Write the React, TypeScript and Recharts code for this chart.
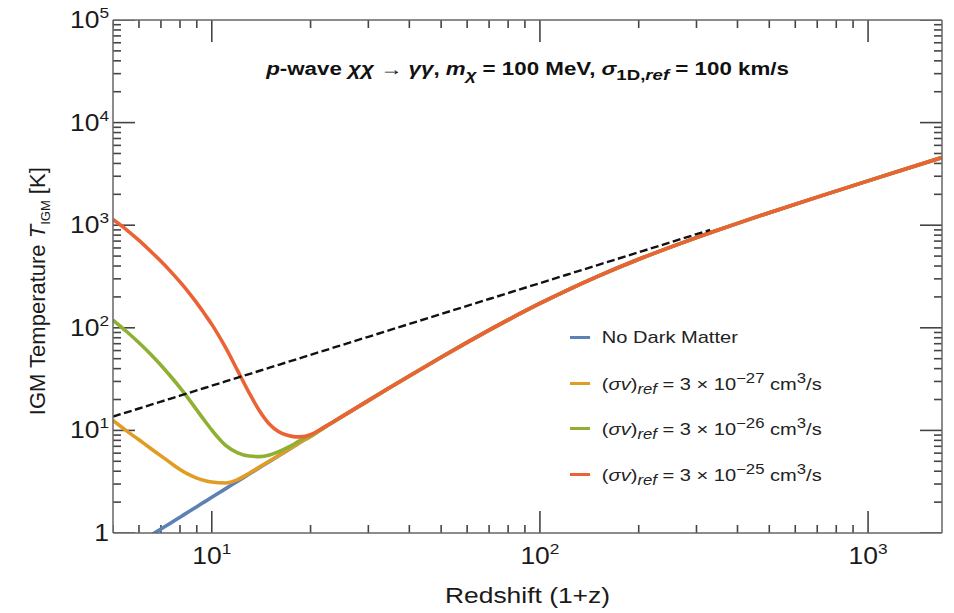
import React from 'react';
import { LineChart, Line, XAxis, YAxis } from 'recharts';

// redshift grid (1+z)
const redshift = [5, 5.5, 6, 6.5, 7, 7.5, 8, 8.5, 9, 9.5, 10, 11, 12, 13, 14, 15, 16, 17, 18, 19, 20, 22, 24, 27, 30, 35, 40, 50, 60, 70, 80, 100, 120, 150, 200, 250, 300, 330, 400, 500, 700, 1000, 1300, 1680];

// gas temperature, no dark matter
const noDarkMatter = [0.558, 0.675, 0.803, 0.942, 1.093, 1.254, 1.427, 1.61, 1.805, 2.01, 2.226, 2.692, 3.2, 3.754, 4.35, 4.99, 5.67, 6.39, 7.16, 7.97, 8.73, 10.64, 12.62, 15.9, 19.52, 26.3, 33.96, 51.67, 72.15, 94.93, 119.5, 172.8, 229.3, 317.1, 465.3, 612.2, 757.3, 843.4, 1042.6, 1323.7, 1879, 2705, 3527, 4566];

// CMB temperature (dashed)
const cmbTemp = [13.63, 14.99, 16.35, 17.71, 19.08, 20.44, 21.8, 23.16, 24.53, 25.89, 27.25, 29.98, 32.7, 35.43, 38.15, 40.88, 43.6, 46.33, 49.05, 51.78, 54.5, 59.95, 65.4, 73.58, 81.75, 95.38, 109, 136.3, 163.5, 190.8, 218, 272.5, 327, 408.8, 545, 681.3, 817.5, 899.3, null, null, null, null, null, null];

const sigmaV27 = [12.5, 9.9, 8.1, 6.7, 5.65, 4.81, 4.16, 3.72, 3.43, 3.25, 3.14, 3.07, 3.32, 3.82, 4.41, 5.03, 5.69, 6.4, 7.17, 7.97, 8.73, 10.64, 12.62, 15.9, 19.52, 26.3, 33.96, 51.67, 72.15, 94.93, 119.5, 172.8, 229.3, 317.1, 465.3, 612.2, 757.3, 843.4, 1042.6, 1323.7, 1879, 2705, 3527, 4566];

const sigmaV26 = [119, 92, 71.4, 55.5, 43.2, 33.5, 26.1, 20.3, 15.8, 12.5, 10.1, 7.2, 6.05, 5.63, 5.55, 5.75, 6.2, 6.8, 7.5, 8.3, 8.9, 10.7, 12.64, 15.9, 19.52, 26.3, 33.96, 51.67, 72.15, 94.93, 119.5, 172.8, 229.3, 317.1, 465.3, 612.2, 757.3, 843.4, 1042.6, 1323.7, 1879, 2705, 3527, 4566];

const sigmaV25 = [1135, 902, 711, 561, 445, 353, 280, 222, 175, 137, 108, 64.7, 38, 23.2, 15.4, 11.5, 9.7, 8.95, 8.65, 8.7, 9.1, 10.75, 12.68, 15.95, 19.55, 26.3, 33.96, 51.67, 72.15, 94.93, 119.5, 172.8, 229.3, 317.1, 465.3, 612.2, 757.3, 843.4, 1042.6, 1323.7, 1879, 2705, 3527, 4566];

const xTicks = [5, 6, 7, 8, 9, 10, 20, 30, 40, 50, 60, 70, 80, 90, 100, 200, 300, 400, 500, 600, 700, 800, 900, 1000];
const yTicks = [1, 2, 3, 4, 5, 6, 7, 8, 9, 10, 20, 30, 40, 50, 60, 70, 80, 90, 100, 200, 300, 400, 500, 600, 700, 800, 900, 1000, 2000, 3000, 4000, 5000, 6000, 7000, 8000, 9000, 10000, 20000, 30000, 40000, 50000, 60000, 70000, 80000, 90000, 100000];

const X_MIN = 5;
const X_MAX = 1680;
const Y_MIN = 1;
const Y_MAX = 100000;

const data = redshift.map((z, i) => ({
  z,
  base: noDarkMatter[i],
  cmb: cmbTemp[i],
  s27: sigmaV27[i],
  s26: sigmaV26[i],
  s25: sigmaV25[i],
}));

const FRAME = '#666';
const TICK = '#444';
const FONT = '"Liberation Sans", Arial, sans-serif';
const MAJOR = 22;
const MINOR = 8;

// plot box is 829 x 513 px; tick lengths (px) turned into factors on the log axes
const PX_PER_DEC_X = 829 / Math.log10(X_MAX / X_MIN);
const PX_PER_DEC_Y = 513 / Math.log10(Y_MAX / Y_MIN);
const fx = (px: number) => Math.pow(10, px / PX_PER_DEC_X);
const fy = (px: number) => Math.pow(10, px / PX_PER_DEC_Y);

const isMajor = (v: number) => Math.abs(Math.log10(v) - Math.round(Math.log10(v))) < 1e-6;
const tickLen = (v: number) => (isMajor(v) ? MAJOR : MINOR);

// inward frame ticks, drawn as short two-point series on the chart's own scales
const tickSegments = [
  ...xTicks.map((v) => [{ z: v, t: Y_MIN }, { z: v, t: Y_MIN * fy(tickLen(v)) }]),
  ...xTicks.map((v) => [{ z: v, t: Y_MAX }, { z: v, t: Y_MAX / fy(tickLen(v)) }]),
  ...yTicks.map((v) => [{ z: X_MIN, t: v }, { z: X_MIN * fx(tickLen(v)), t: v }]),
  ...yTicks.map((v) => [{ z: X_MAX, t: v }, { z: X_MAX / fx(tickLen(v)), t: v }]),
];

const PowLabel = ({ x, y, v, anchor }: any) => {
  const e = Math.round(Math.log10(v));
  return (
    <text
      transform={`translate(${x},${y}) scale(1.15,1)`}
      textAnchor={anchor}
      fontFamily={FONT}
      fontSize={23}
      fill="#1a1a1a"
      stroke="none"
    >
      {e === 0 ? '1' : <>10<tspan dy={-10} fontSize={15}>{e}</tspan></>}
    </text>
  );
};

const BottomLabel = ({ x, y, payload }: any) =>
  isMajor(payload.value) ? <PowLabel x={x} y={y + 31} v={payload.value} anchor="middle" /> : <g />;

const LeftLabel = ({ x, y, payload }: any) =>
  isMajor(payload.value) ? <PowLabel x={x - 4} y={y + 8} v={payload.value} anchor="end" /> : <g />;

const legendItems = [
  { color: '#5e81b5', label: <>No Dark Matter</> },
  { color: '#e19c24', label: <>(<i>σv</i>)<sub><i>ref</i></sub> = 3 × 10<sup>−27</sup> cm<sup>3</sup>/s</> },
  { color: '#8fb032', label: <>(<i>σv</i>)<sub><i>ref</i></sub> = 3 × 10<sup>−26</sup> cm<sup>3</sup>/s</> },
  { color: '#eb6235', label: <>(<i>σv</i>)<sub><i>ref</i></sub> = 3 × 10<sup>−25</sup> cm<sup>3</sup>/s</> },
];

export default function App() {
  return (
    <div style={{ position: 'absolute', left: 0, top: 0, width: 954, height: 613, background: '#fff', fontFamily: FONT }}>
      <LineChart width={954} height={613} data={data} margin={{ top: 0, right: 0, bottom: 0, left: 0 }}>
        <XAxis
          dataKey="z"
          type="number"
          scale="log"
          domain={[X_MIN, X_MAX]}
          allowDataOverflow
          ticks={xTicks}
          interval={0}
          height={80}
          tickSize={0}
          tickMargin={0}
          tickLine={false}
          axisLine={{ stroke: FRAME, strokeWidth: 1.5 }}
          tick={BottomLabel}
        />
        <XAxis
          xAxisId="top"
          dataKey="z"
          type="number"
          scale="log"
          orientation="top"
          domain={[X_MIN, X_MAX]}
          allowDataOverflow
          height={20}
          tick={false}
          tickLine={false}
          axisLine={{ stroke: FRAME, strokeWidth: 1.5 }}
        />
        <YAxis
          type="number"
          scale="log"
          domain={[Y_MIN, Y_MAX]}
          allowDataOverflow
          ticks={yTicks}
          interval={0}
          width={113}
          tickSize={0}
          tickMargin={0}
          tickLine={false}
          axisLine={{ stroke: FRAME, strokeWidth: 1.5 }}
          tick={LeftLabel}
        />
        <YAxis
          yAxisId="right"
          orientation="right"
          type="number"
          scale="log"
          domain={[Y_MIN, Y_MAX]}
          allowDataOverflow
          width={12}
          tick={false}
          tickLine={false}
          axisLine={{ stroke: FRAME, strokeWidth: 1.5 }}
        />

        {tickSegments.map((seg, i) => (
          <Line
            key={`tick${i}`}
            data={seg}
            dataKey="t"
            stroke={TICK}
            strokeWidth={1.6}
            dot={false}
            activeDot={false}
            legendType="none"
            isAnimationActive={false}
          />
        ))}

        <Line dataKey="base" stroke="#5e81b5" strokeWidth={3.6} dot={false} isAnimationActive={false} type="monotone" />
        <Line dataKey="s27" stroke="#e19c24" strokeWidth={3.6} dot={false} isAnimationActive={false} type="monotone" />
        <Line dataKey="s26" stroke="#8fb032" strokeWidth={3.6} dot={false} isAnimationActive={false} type="monotone" />
        <Line dataKey="s25" stroke="#eb6235" strokeWidth={3.6} dot={false} isAnimationActive={false} type="monotone" />
        <Line dataKey="cmb" stroke="#111" strokeWidth={2.4} strokeDasharray="8 3.5" dot={false} isAnimationActive={false} connectNulls={false} />
      </LineChart>

      <div style={{ position: 'absolute', left: 113, width: 829, top: 59, textAlign: 'center', fontSize: 18, fontWeight: 'bold', color: '#111', transform: 'scaleX(1.24)', transformOrigin: '414.5px 0' }}>
        <i>p</i>-wave <i>χχ</i> → <i>γγ</i>, <i>m</i><sub><i>χ</i></sub> = 100 MeV, <i>σ</i><sub>1D,<i>ref</i></sub> = 100 km/s
      </div>

      <div style={{ position: 'absolute', left: 570, top: 315, transform: 'scaleX(1.18)', transformOrigin: '0 0' }}>
        {legendItems.map((it, i) => (
          <div key={i} style={{ display: 'flex', alignItems: 'center', height: 45.5, fontSize: 17, color: '#222' }}>
            <div style={{ width: 17, height: 3, background: it.color, marginRight: 10 }} />
            <span>{it.label}</span>
          </div>
        ))}
      </div>

      <div style={{ position: 'absolute', left: 113, width: 829, top: 583, textAlign: 'center', fontSize: 22, color: '#1a1a1a', transform: 'scaleX(1.2)', transformOrigin: '414.5px 0' }}>
        Redshift (1+z)
      </div>

      <div style={{ position: 'absolute', left: 42 - 200, top: 287 - 15, width: 400, lineHeight: '30px', textAlign: 'center', fontSize: 22, color: '#1a1a1a', transform: 'rotate(-90deg)' }}>
        IGM Temperature <i>T</i><sub style={{ fontSize: 13 }}>IGM</sub> [K]
      </div>
    </div>
  );
}
